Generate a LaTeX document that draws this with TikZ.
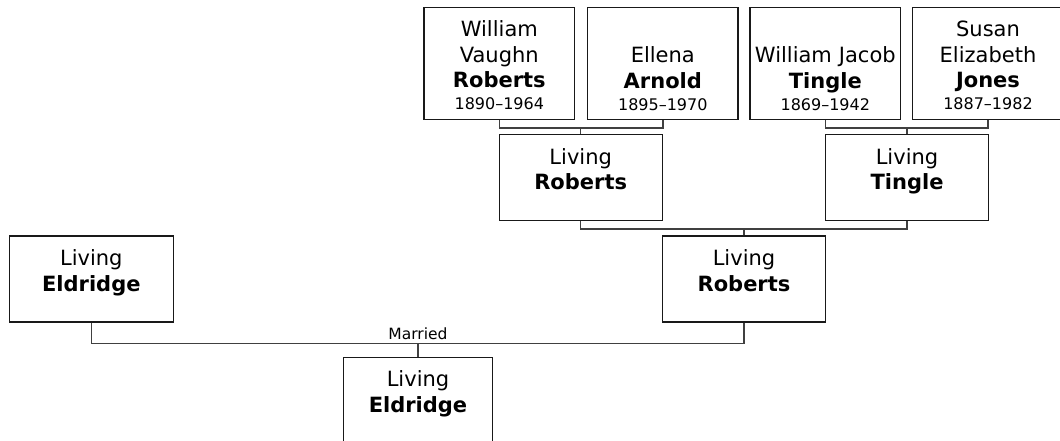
\documentclass[tikz,border=0pt]{standalone}
\usepackage{fontspec}
\setmainfont{DejaVu Sans}
\usepackage{tikz}
\usetikzlibrary{positioning, calc}

\newcommand{\lifespan}[1]{{\fontsize{16}{19}\selectfont #1}}

\begin{document}
\begin{tikzpicture}[
        x=1pt, y=-1pt,
        person/.style={rectangle, draw=black!90, line width=1.4pt, align=center, inner sep=0pt, anchor=north, font=\fontsize{21}{25.5}\selectfont},
        ancestor/.style={person, text width=150.5pt, text height=29pt, text depth=83pt},
        threeline/.style={text height=55pt, text depth=57pt},
        living/.style={person, text width=163pt, text height=29.5pt, text depth=56.5pt},
        link/.style={draw=black!75, line width=1.4pt},
        note/.style={font=\fontsize{15.5}{18}\selectfont, inner sep=3pt}
    ]
        \useasboundingbox (0,0) rectangle (1060,441);
        \clip (0,0) rectangle (1060,441);

        % ================= ABUELOS =================
        \node[ancestor] (william) at (499.3, 7) {William\\Vaughn\\\textbf{Roberts}\\[-3.5pt]\lifespan{1890--1964}};
        \node[ancestor, threeline] (ellena) at (662.8, 7) {Ellena\\\textbf{Arnold}\\[-3.5pt]\lifespan{1895--1970}};
        \node[ancestor, threeline] (wjacob) at (825.3, 7) {William Jacob\\\textbf{Tingle}\\[-3.5pt]\lifespan{1869--1942}};
        \node[ancestor] (susan) at (988, 7) {Susan\\Elizabeth\\\textbf{Jones}\\[-3.5pt]\lifespan{1887--1982}};

        % ================= PADRES =================
        \node[living] (livrob) at (580.7, 134) {Living\\\textbf{Roberts}};
        \node[living] (livtin) at (907, 134) {Living\\\textbf{Tingle}};

        % ================= PAREJA =================
        \node[living, text width=164pt] (eld) at (91.3, 235.3) {Living\\\textbf{Eldridge}};
        \node[living] (rob) at (744, 235.3) {Living\\\textbf{Roberts}};

        % Hijo
        \node[living, text width=149.4pt] (kid) at (418, 356.7) {Living\\\textbf{Eldridge}};

        % Conexiones
        \draw[link] (william.south) -- ++(0,7.5) coordinate (bar1) -| (ellena.south);
        \draw[link] (livrob.north) -- (livrob.north |- bar1);
        \draw[link] (wjacob.south) -- ++(0,7.5) coordinate (bar2) -| (susan.south);
        \draw[link] (livtin.north) -- (livtin.north |- bar2);
        \draw[link] (livrob.south) -- ++(0,7.5) coordinate (bar3) -| (livtin.south);
        \draw[link] (rob.north) -- (rob.north |- bar3);
        \draw[link] (eld.south) -- ++(0,21) coordinate (bar4) -| (rob.south);
        \draw[link] (kid.north) -- (kid.north |- bar4) node[note, above] (married) {Married};
\end{tikzpicture}
\end{document}
